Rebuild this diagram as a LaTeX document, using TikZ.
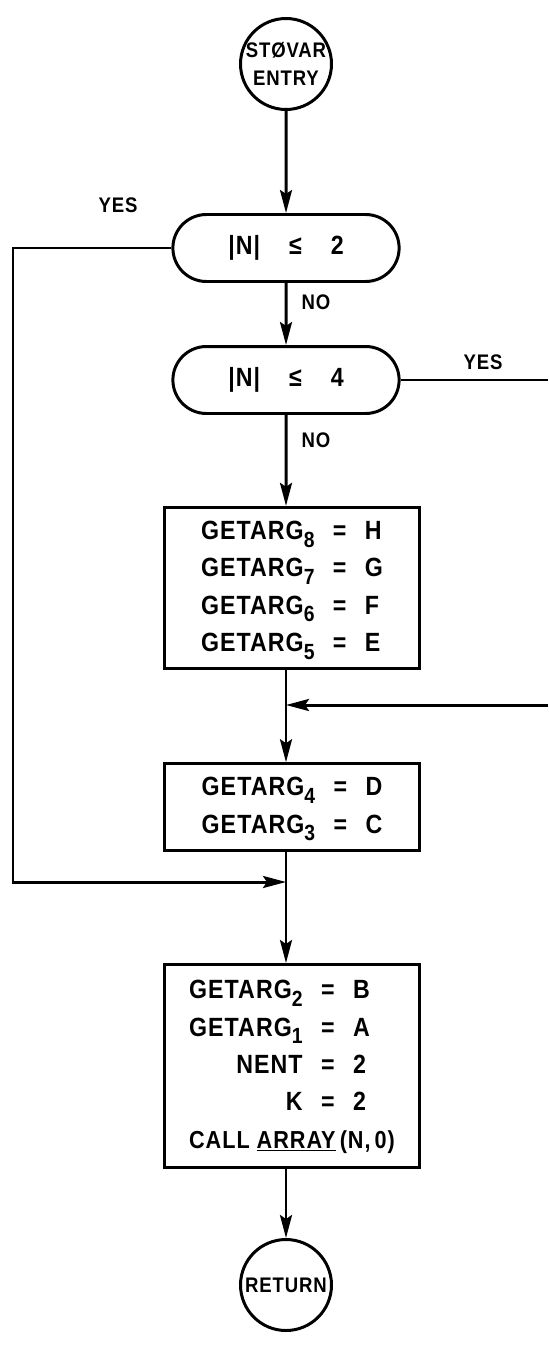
\documentclass[tikz,border=0pt]{standalone}
\usepackage{fontspec}
\setmainfont{Liberation Sans}[FakeStretch=0.88,LetterSpace=4]
\usetikzlibrary{arrows.meta,shapes.misc}
\newcommand{\GA}[1]{GETARG\raisebox{-0.55ex}{\fontsize{12.5}{12.5}\selectfont #1}}
\begin{document}
\begin{tikzpicture}[x=0.02cm,y=-0.02cm,>={Stealth[length=4.6mm,width=2.4mm,inset=0.8mm]},line width=1.7pt,
  font=\bfseries\fontsize{15}{16}\selectfont,
  term/.style={draw,circle,minimum size=1.82cm,inner sep=0pt,align=center,font=\bfseries\fontsize{12}{14}\selectfont},
  test/.style={draw,rounded rectangle,minimum width=4.76cm,minimum height=1.34cm},
  proc/.style={draw,rectangle,minimum width=5.1cm,align=center},
  lbl/.style={font=\bfseries\fontsize{12}{14}\selectfont}]
\useasboundingbox (0,0) rectangle (548,1348);
\renewcommand{\arraystretch}{1.33}
\node[term] (entry) at (286,64) {STØVAR\\[2pt]ENTRY};
\node[test] (t1) at (286,248) {|N|\hspace{1.1em}≤\hspace{1.1em}2};
\node[test] (t2) at (286,380) {|N|\hspace{1.1em}≤\hspace{1.1em}4};
\node[proc,minimum height=3.2cm] (b1) at (292,588) {\begin{tabular}{r@{\hspace{.7em}=\hspace{.7em}}l}
\GA{8}&H\\ \GA{7}&G\\ \GA{6}&F\\ \GA{5}&E\end{tabular}};
\node[proc,minimum height=1.7cm] (b2) at (292,807) {\begin{tabular}{r@{\hspace{.7em}=\hspace{.7em}}l}
\GA{4}&D\\ \GA{3}&C\end{tabular}};
\node[proc,minimum height=4.06cm] (b3) at (292,1066) {\begin{tabular}{r@{\hspace{.7em}=\hspace{.7em}}l}
\GA{2}&B\\ \GA{1}&A\\ NENT&2\\ K&2\\ \multicolumn{2}{l}{\fontsize{14}{16}\selectfont CALL\ \underline{ARRAY}\,(N,\,0)}\end{tabular}};
\node[term] (ret) at (286,1285) {RETURN};
\node[lbl] (yes1) at (118,205) {YES};
\node[lbl] (no1) at (316,302) {NO};
\node[lbl] (yes2) at (483,362) {YES};
\node[lbl] (no2) at (316,440) {NO};
\coordinate (j1) at (286,705);
\coordinate (j2) at (286,882);
\coordinate (lc) at (13,882);
\coordinate (re1) at (548,380);
\coordinate (re2) at (548,705);
\draw[->] (entry) -- (t1);
\draw[->] (t1) -- (t2);
\draw[->] (t2) -- (t2 |- b1.north);
\draw (t2 |- b1.south) -- (j1);
\draw[->] (j1) -- (j1 |- b2.north);
\draw (j1 |- b2.south) -- (j2);
\draw[->] (j2) -- (j2 |- b3.north);
\draw[->] (j2 |- b3.south) -- (ret);
\draw[->] (t1.west) -| (lc) -- (j2);
\draw (t2.east) -- (re1);
\draw[->] (re2) -- (j1);
\end{tikzpicture}
\end{document}
